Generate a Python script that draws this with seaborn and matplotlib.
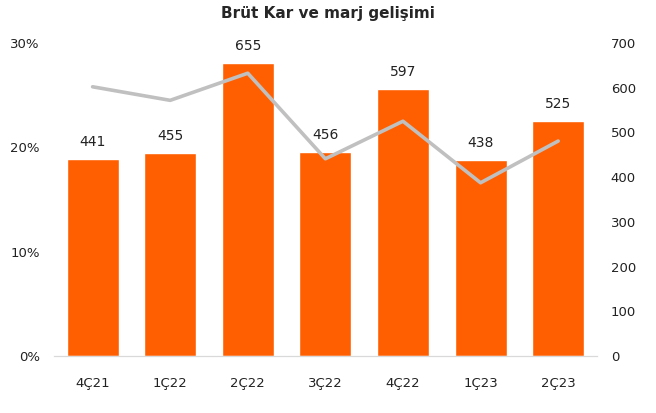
import pandas as pd
import matplotlib
matplotlib.use('Agg')
import matplotlib.pyplot as plt
import seaborn as sns
from matplotlib.ticker import PercentFormatter

# 분기별 데이터
quarters = ['4Ç21', '1Ç22', '2Ç22', '3Ç22', '4Ç22', '1Ç23', '2Ç23']
gross_profit = [441, 455, 655, 456, 597, 438, 525]
margin = [25.8, 24.5, 27.1, 18.9, 22.5, 16.6, 20.6]

df = pd.DataFrame({'quarter': quarters, 'profit': gross_profit, 'margin': margin})

sns.set_style('white')
plt.rcParams['font.family'] = ['DejaVu Sans']

fig = plt.figure(figsize=(6.56, 4.13), dpi=100)
ax = fig.add_axes([0.082, 0.138, 0.828, 0.758])

# 막대: 오른쪽 축(0~700)
sns.barplot(data=df, x='quarter', y='profit', color='#FF5F00', width=0.67,
            saturation=1, ax=ax)
ax.bar_label(ax.containers[0], padding=7, fontsize=10, color='#222222')
ax.set_ylim(0, 700)
ax.set_yticks(range(0, 701, 100))
ax.set_xlim(-0.5, 6.5)
ax.set_xlabel('')
ax.set_ylabel('')

# 선: 왼쪽 축(0~30%)
ax2 = ax.twinx()
sns.lineplot(data=df, x='quarter', y='margin', sort=False, color='#C0C0C0',
             linewidth=2.6, ax=ax2)
ax2.set_ylim(0, 30)
ax2.set_yticks([0, 10, 20, 30])
ax2.yaxis.set_major_formatter(PercentFormatter(decimals=0))
ax2.set_ylabel('')
ax2.set_xlabel('')

# twinx 이후에 축 위치 바꾸기
ax.yaxis.tick_right()
ax2.yaxis.tick_left()

for a in (ax, ax2):
    for s in ['top', 'left', 'right']:
        a.spines[s].set_visible(False)
    a.spines['bottom'].set_color('#D9D9D9')
    a.tick_params(length=0, labelsize=9.5, colors='#222222')
ax.tick_params(axis='y', pad=10)
ax2.tick_params(axis='y', pad=10)
ax.tick_params(axis='x', pad=15)

fig.suptitle('Brüt Kar ve marj gelişimi', fontsize=11, fontweight='bold',
             y=0.985, x=0.5)

fig.savefig('out.png', dpi=100)
